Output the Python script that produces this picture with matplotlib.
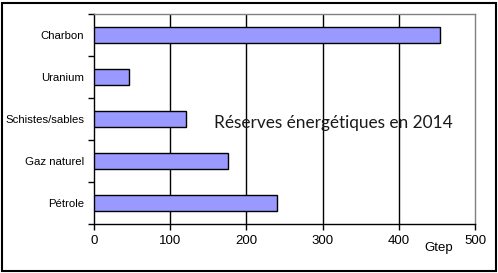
import matplotlib.pyplot as plt
from matplotlib.patches import Rectangle

categories = ['Pétrole', 'Gaz naturel', 'Schistes/sables', 'Uranium', 'Charbon']
reserves   = [240, 176, 121, 46, 454]
x_ticks    = [0, 100, 200, 300, 400, 500]

W, H = 498, 273
fig = plt.figure(figsize=(W / 100, H / 100), dpi=100)
fig.patch.set_facecolor('white')

# outer frame of the chart
fig.patches.append(Rectangle((1.5 / W, 2.5 / H), 494 / W, 268 / H, transform=fig.transFigure,
                             fill=False, edgecolor='black', linewidth=1.5))

ax = fig.add_axes([94 / W, (H - 224) / H, 381 / W, 210 / H])
ax.barh(range(len(categories)), reserves, height=0.4, color='#9999FF',
        edgecolor='black', linewidth=1, zorder=3)

ax.set_xlim(0, 500)
ax.set_ylim(-0.5, len(categories) - 0.5)
ax.set_xticks(x_ticks)
ax.set_xticklabels([str(t) for t in x_ticks], fontsize=9.5, family='Liberation Sans')
ax.set_yticks(range(len(categories)))
ax.set_yticklabels(categories, fontsize=8.2, family='Liberation Sans')
ax.tick_params(axis='y', length=0, pad=7)
ax.set_yticks([i - 0.5 for i in range(len(categories) + 1)], minor=True)
ax.tick_params(axis='y', which='minor', length=4, width=1, direction='out')
ax.tick_params(axis='x', length=4, width=1, direction='out', pad=4)

for t in x_ticks[1:-1]:
    ax.axvline(t, color='black', linewidth=1, zorder=1)

ax.spines['left'].set_color('black')
ax.spines['bottom'].set_color('black')
ax.spines['top'].set_color('#808080')
ax.spines['right'].set_color('#808080')
for s in ax.spines.values():
    s.set_linewidth(1)

ax.text(0.627, 0.48, 'Réserves énergétiques en 2014', transform=ax.transAxes,
        ha='center', va='center', fontsize=12.4, family='Lato', color='#1a1a1a', zorder=4)

fig.text(439 / W, 1 - 248 / H, 'Gtep', ha='center', va='center', fontsize=9.5,
         family='Liberation Sans')

fig.savefig('out.png', dpi=100)
